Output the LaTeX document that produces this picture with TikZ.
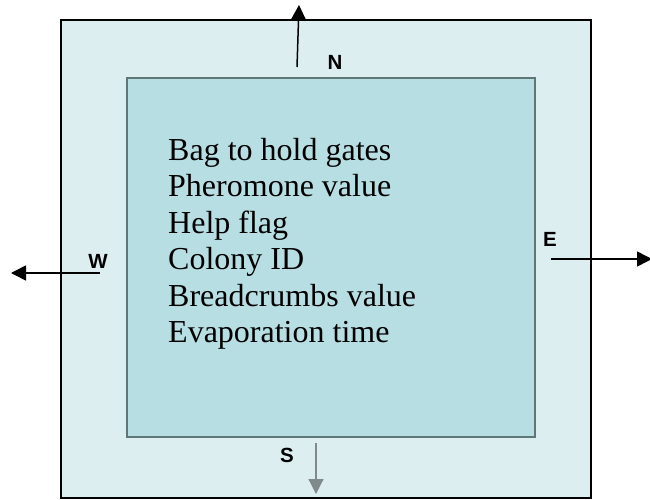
\documentclass[tikz,border=0pt]{standalone}
\usepackage{fontspec}
\setmainfont{Liberation Serif}
\newfontfamily\labelfont{Liberation Sans}
\usetikzlibrary{arrows.meta}
\definecolor{cellouter}{RGB}{221,238,241}
\definecolor{cellinner}{RGB}{183,223,227}
\definecolor{celledge}{RGB}{94,118,118}
\definecolor{southgray}{RGB}{128,138,138}
\begin{document}
\begin{tikzpicture}[x=1pt,y=-1pt,
  dirarrow/.style={line width=1.5pt,-{Triangle[length=15pt,width=15pt]}},
  dirlabel/.style={font=\labelfont\bfseries\fontsize{20.5}{20.5}\selectfont,inner sep=0pt},
  fieldline/.style={font=\fontsize{32}{36}\selectfont,inner sep=0pt,anchor=base west}]
  \useasboundingbox (0,0) rectangle (650,500);
  % outer cell and inner data area
  \node[draw=black,line width=2pt,fill=cellouter,minimum width=530pt,minimum height=478pt,inner sep=0pt] (outer) at (326,259) {};
  \node[draw=celledge,line width=1.5pt,fill=cellinner,minimum width=408pt,minimum height=359pt,inner sep=0pt] (inner) at (331,257.5) {};
  % fields stored in the cell
  \foreach \t [count=\i] in {Bag to hold gates,Pheromone value,Help flag,Colony ID,Breadcrumbs value,Evaporation time}
    \node[fieldline] (line\i) at (168,{160.5+36.4*(\i-1)}) {\t};
  % direction labels
  \node[dirlabel] (nlab) at (335,62) {N};
  \node[dirlabel] (wlab) at (98,261) {W};
  \node[dirlabel] (elab) at (550,239) {E};
  \node[dirlabel] (slab) at (287,455) {S};
  % direction arrows
  \coordinate (nfrom) at (297,67);
  \coordinate (nto) at (299,5);
  \coordinate (wfrom) at (100,273);
  \coordinate (wto) at (11,273);
  \coordinate (efrom) at (551,259);
  \coordinate (eto) at (652,259);
  \coordinate (sfrom) at (316,443);
  \coordinate (sto) at (316,494);
  \draw[dirarrow] (nfrom) -- (nto);
  \draw[dirarrow] (wfrom) -- (wto);
  \draw[dirarrow] (efrom) -- (eto);
  \draw[dirarrow,draw=southgray,fill=southgray,line width=1.2pt] (sfrom) -- (sto);
\end{tikzpicture}
\end{document}
